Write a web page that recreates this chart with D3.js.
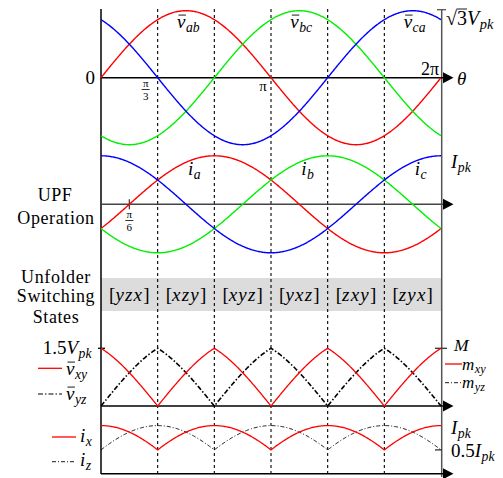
<!DOCTYPE html>
<html>
<head>
<meta charset="utf-8">
<script src="https://cdn.jsdelivr.net/npm/d3@7"></script>
<style>
  html, body { margin: 0; padding: 0; background: #fff; }
  svg text { font-family: "Liberation Serif", "Times New Roman", serif; fill: #000; }
  .it { font-style: italic; }
</style>
</head>
<body>
<svg id="chart" width="503" height="478"></svg>
<script>
const PI = Math.PI;

// Line voltages (amplitude sqrt(3) Vpk) and phase currents (amplitude Ipk)
const voltageNames = ["ab", "bc", "ca"];
const voltagePhases = [0, -2 * PI / 3, 2 * PI / 3];
const voltageAmp = Math.sqrt(3);
const currentNames = ["a", "b", "c"];
const currentPhases = [0, -2 * PI / 3, 2 * PI / 3];
const currentLag = PI / 6;
const currentAmp = 1;
const phaseColors = ["#ff0000", "#00f000", "#0000ff"];

// Unfolder sectors (60 degrees each) and their switching states
const sectorBounds = [0, 1, 2, 3, 4, 5, 6].map(k => k * PI / 3);
const switchingStates = ["[yzx]", "[xzy]", "[xyz]", "[yxz]", "[zxy]", "[zyx]"];

// DC-side quantities: peaks of the unfolded voltages and currents
const dcVoltagePeak = 1.5;   // in Vpk
const dcCurrentMax = 1.0;    // in Ipk
const dcCurrentMin = 0.5;    // in Ipk

const svg = d3.select("#chart");

const x = d3.scaleLinear().domain([0, 2 * PI]).range([101, 441]);
const yV = d3.scaleLinear().domain([-voltageAmp, voltageAmp]).range([144.7, 10.7]);
const yI = d3.scaleLinear().domain([-1, 1]).range([252.8, 155.8]);
const yDV = d3.scaleLinear().domain([0, dcVoltagePeak]).range([406, 348.3]);
const yDI = d3.scaleLinear().domain([0, dcCurrentMax]).range([474.2, 425.6]);

const N = 360;
const thetas = d3.range(N + 1).map(i => i * 2 * PI / N);
const wrap = t => ((t % (2 * PI)) + 2 * PI) % (2 * PI);

// Gray band behind switching states
svg.append("rect")
  .attr("x", x(0)).attr("y", 278)
  .attr("width", x(2 * PI) - x(0)).attr("height", 33)
  .attr("fill", "#dcdcdc");

// Sector boundaries
svg.append("g").selectAll("line")
  .data(sectorBounds.slice(1, 6))
  .join("line")
  .attr("x1", d => x(d)).attr("x2", d => x(d))
  .attr("y1", 9).attr("y2", 474)
  .attr("stroke", "#000").attr("stroke-width", 1.1)
  .attr("stroke-dasharray", "3,3");

// Axes
const axisG = svg.append("g");
axisG.append("line").attr("x1", x(0)).attr("x2", x(0)).attr("y1", 9).attr("y2", 474)
  .attr("stroke", "#000").attr("stroke-width", 1.5);
axisG.append("line").attr("x1", x(2 * PI) + 0.7).attr("x2", x(2 * PI) + 0.7).attr("y1", 9).attr("y2", 477)
  .attr("stroke", "#555").attr("stroke-width", 1.5);

const zeroLines = [
  { y: yV(0), color: "#000" },
  { y: yI(0), color: "#444" },
  { y: yDV(0), color: "#000" },
  { y: yDI(0) - 0.5, color: "#000" }
];
zeroLines.forEach(z => {
  axisG.append("line").attr("x1", x(0)).attr("x2", 445).attr("y1", z.y).attr("y2", z.y)
    .attr("stroke", z.color).attr("stroke-width", 1.5);
  axisG.append("path")
    .attr("d", `M443,${z.y - 5.5} L453.5,${z.y} L443,${z.y + 5.5} Z`)
    .attr("fill", "#000");
});

// Tick marks
axisG.append("line").attr("x1", 437).attr("x2", 446).attr("y1", yV(voltageAmp) - 1).attr("y2", yV(voltageAmp) - 1)
  .attr("stroke", "#555").attr("stroke-width", 1.3);
axisG.append("line").attr("x1", x(PI / 6)).attr("x2", x(PI / 6)).attr("y1", yI(0) - 5).attr("y2", yI(0) + 5)
  .attr("stroke", "#333").attr("stroke-width", 1.2);
axisG.append("line").attr("x1", 98).attr("x2", 105).attr("y1", yDV(dcVoltagePeak)).attr("y2", yDV(dcVoltagePeak))
  .attr("stroke", "#000").attr("stroke-width", 1.3);
axisG.append("line").attr("x1", 435).attr("x2", 447).attr("y1", yDV(dcVoltagePeak)).attr("y2", yDV(dcVoltagePeak))
  .attr("stroke", "#333").attr("stroke-width", 1.3);
axisG.append("line").attr("x1", 435).attr("x2", 442).attr("y1", yDI(dcCurrentMin)).attr("y2", yDI(dcCurrentMin))
  .attr("stroke", "#333").attr("stroke-width", 1.3);

// AC waveforms
const lineGen = (ys) => d3.line().x(d => x(d[0])).y(d => ys(d[1]));

voltagePhases.forEach((ph, i) => {
  const pts = thetas.map(t => [t, voltageAmp * Math.sin(t + ph)]);
  svg.append("path").attr("d", lineGen(yV)(pts))
    .attr("fill", "none").attr("stroke", phaseColors[i]).attr("stroke-width", 1.4);
});
currentPhases.forEach((ph, i) => {
  const pts = thetas.map(t => [t, currentAmp * Math.sin(t + ph - currentLag)]);
  svg.append("path").attr("d", lineGen(yI)(pts))
    .attr("fill", "none").attr("stroke", phaseColors[i]).attr("stroke-width", 1.4);
});

// DC-side waveforms, built sector by sector
function sectorWave(fnEven, fnOdd) {
  return thetas.map(t => {
    const k = Math.min(5, Math.floor(t / (PI / 3) + 1e-9));
    const phi = t - k * PI / 3;
    return [t, k % 2 === 0 ? fnEven(phi) : fnOdd(phi)];
  });
}
const vxy = sectorWave(p => voltageAmp * Math.sin(PI / 3 - p), p => voltageAmp * Math.sin(p));
const vyz = sectorWave(p => voltageAmp * Math.sin(p), p => voltageAmp * Math.sin(PI / 3 - p));
const ix = sectorWave(p => Math.cos(p), p => Math.cos(PI / 3 - p));
const iz = sectorWave(p => Math.cos(PI / 3 - p), p => Math.cos(p));

svg.append("path").attr("d", lineGen(yDV)(vyz))
  .attr("fill", "none").attr("stroke", "#000").attr("stroke-width", 1.6)
  .attr("stroke-dasharray", "5,2,1.5,2");
svg.append("path").attr("d", lineGen(yDV)(vxy))
  .attr("fill", "none").attr("stroke", "#ff0000").attr("stroke-width", 1.3);
svg.append("path").attr("d", lineGen(yDI)(iz))
  .attr("fill", "none").attr("stroke", "#000").attr("stroke-width", 0.9)
  .attr("stroke-dasharray", "4,2,1,2");
svg.append("path").attr("d", lineGen(yDI)(ix))
  .attr("fill", "none").attr("stroke", "#ff0000").attr("stroke-width", 1.3);

// Switching state labels
svg.append("g").selectAll("text")
  .data(switchingStates)
  .join("text")
  .attr("x", (d, i) => x((sectorBounds[i] + sectorBounds[i + 1]) / 2))
  .attr("y", 301)
  .attr("text-anchor", "middle")
  .attr("font-size", 19)
  .each(function (d) {
    const t = d3.select(this);
    t.append("tspan").text("[");
    t.append("tspan").attr("class", "it").attr("letter-spacing", 1.2).text(d.slice(1, -1));
    t.append("tspan").text("]");
  });

// Math label helper: optional upright prefix, italic base with optional bar, italic subscript
function mathLabel(px, py, base, sub, opts = {}) {
  const size = opts.size || 19;
  const g = svg.append("g");
  const t = g.append("text").attr("x", px).attr("y", py).attr("font-size", size);
  let prefixW = 0;
  if (opts.pre) {
    t.append("tspan").text(opts.pre);
    prefixW = t.node().getComputedTextLength();
  }
  t.append("tspan").attr("class", "it").text(base);
  const baseEnd = t.node().getComputedTextLength();
  if (sub) {
    t.append("tspan").attr("class", "it").attr("font-size", size * 0.72)
      .attr("dx", 0.5).attr("dy", size * 0.2).text(sub);
  }
  if (opts.bar) {
    g.append("line").attr("x1", px + prefixW + 1.5).attr("x2", px + baseEnd + 0.5)
      .attr("y1", py - size * 0.68).attr("y2", py - size * 0.68)
      .attr("stroke", "#000").attr("stroke-width", 0.9);
  }
  if (opts.radical) {
    // vinculum over the radicand
    const rootW = t.node().getSubStringLength(0, 1);
    g.append("line").attr("x1", px + rootW - 0.5).attr("x2", px + prefixW)
      .attr("y1", py - size * 0.8).attr("y2", py - size * 0.8)
      .attr("stroke", "#000").attr("stroke-width", 0.9);
  }
  if (opts.alignRight != null) {
    const w = t.node().getComputedTextLength();
    g.attr("transform", `translate(${opts.alignRight - (px + w)},0)`);
  }
  return g;
}

function fracLabel(cx, cy, num, den, size) {
  svg.append("text").attr("x", cx).attr("y", cy - 2.6).attr("text-anchor", "middle")
    .attr("font-size", size).text(num);
  svg.append("text").attr("x", cx).attr("y", cy + 10).attr("text-anchor", "middle")
    .attr("font-size", size).text(den);
  svg.append("line").attr("x1", cx - 4).attr("x2", cx + 4).attr("y1", cy).attr("y2", cy)
    .attr("stroke", "#000").attr("stroke-width", 0.8);
}

// Panel 1 labels
voltageNames.forEach((n, i) => {
  const peakT = wrap(PI / 2 - voltagePhases[i]);
  mathLabel(x(peakT) - 9, 28, "v", n, { bar: true });
});
svg.append("text").attr("x", 95).attr("y", 84).attr("text-anchor", "end").attr("font-size", 19).text("0");
fracLabel(x(PI / 3) - 12, 89.5, "π", "3", 11);
svg.append("text").attr("x", x(PI) - 8).attr("y", 91).attr("text-anchor", "middle").attr("font-size", 15).text("π");
svg.append("text").attr("x", 439).attr("y", 75).attr("text-anchor", "end").attr("font-size", 18).text("2π");
svg.append("text").attr("x", 457).attr("y", 85).attr("class", "it").attr("font-size", 19).text("θ");
mathLabel(446, 25, "V", "pk", { pre: "√3", radical: true, size: 20 });

// Panel 2 labels
currentNames.forEach((n, i) => {
  const labelT = wrap(PI / 2 - currentPhases[i]);
  mathLabel(x(labelT) + 2, 175, "i", n);
});
mathLabel(451, 168, "I", "pk");
fracLabel(x(PI / 6), 220.5, "π", "6", 11);
svg.append("text").attr("x", 55).attr("y", 201).attr("text-anchor", "middle").attr("font-size", 18).attr("letter-spacing", 0.5).text("UPF");
svg.append("text").attr("x", 56).attr("y", 224).attr("text-anchor", "middle").attr("font-size", 18).attr("letter-spacing", 0.6).text("Operation");

// Panel 3 labels
[["Unfolder", 283], ["Switching", 301.5], ["States", 323]].forEach(([t, yy]) => {
  svg.append("text").attr("x", 56).attr("y", yy).attr("text-anchor", "middle")
    .attr("font-size", 18).attr("letter-spacing", 0.6).text(t);
});

// Panel 4 labels and legends
mathLabel(40, 354, "V", "pk", { pre: "1.5", alignRight: 91 });
svg.append("line").attr("x1", 38).attr("x2", 62).attr("y1", 368.3).attr("y2", 368.3)
  .attr("stroke", "#ff0000").attr("stroke-width", 1.3);
mathLabel(66, 375, "v", "xy", { bar: true });
svg.append("line").attr("x1", 38).attr("x2", 62).attr("y1", 394).attr("y2", 394)
  .attr("stroke", "#000").attr("stroke-width", 1.1).attr("stroke-dasharray", "5,2,1.5,2");
mathLabel(66, 400, "v", "yz", { bar: true });
mathLabel(454, 350.5, "M", null, { size: 17.5 });
svg.append("line").attr("x1", 445).attr("x2", 462).attr("y1", 364).attr("y2", 364)
  .attr("stroke", "#ff0000").attr("stroke-width", 1.3);
mathLabel(462, 369.5, "m", "xy", { size: 17 });
svg.append("line").attr("x1", 445).attr("x2", 462).attr("y1", 382.7).attr("y2", 382.7)
  .attr("stroke", "#000").attr("stroke-width", 0.9).attr("stroke-dasharray", "4,2,1,2");
mathLabel(462, 387.5, "m", "yz", { size: 17 });

// Panel 5 labels and legends
svg.append("line").attr("x1", 52).attr("x2", 76).attr("y1", 437).attr("y2", 437)
  .attr("stroke", "#ff0000").attr("stroke-width", 1.3);
mathLabel(80, 442, "i", "x");
svg.append("line").attr("x1", 52).attr("x2", 76).attr("y1", 461.7).attr("y2", 461.7)
  .attr("stroke", "#000").attr("stroke-width", 0.9).attr("stroke-dasharray", "4,2,1,2");
mathLabel(80, 466, "i", "z");
mathLabel(451, 434, "I", "pk");
mathLabel(451, 457, "I", "pk", { pre: "0.5" });
</script>
</body>
</html>
